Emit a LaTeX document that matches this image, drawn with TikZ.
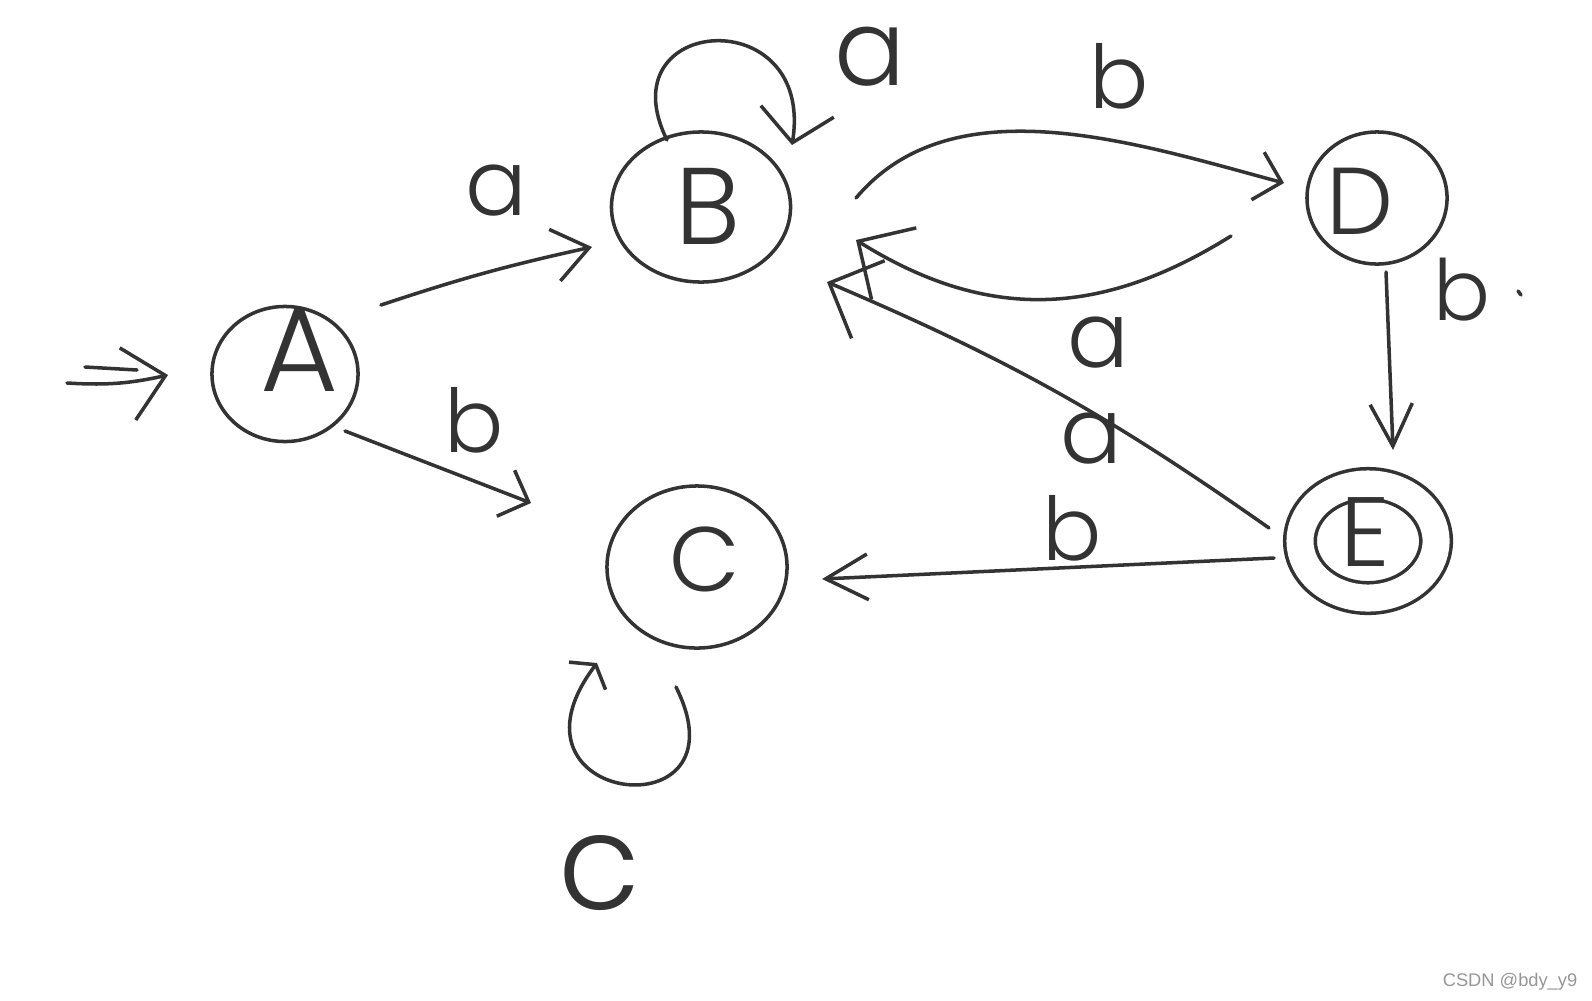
\documentclass[tikz,border=0pt]{standalone}
\usepackage{fontspec}
\setmainfont{Poppins}[UprightFont=*-Light]
\setsansfont{Liberation Sans}
\usetikzlibrary{arrows.meta,shapes.geometric}
\newcommand\fsz[1]{\fontsize{#1}{#1}\selectfont}
\definecolor{ink}{RGB}{51,51,51}
\definecolor{wm}{RGB}{150,150,150}
\begin{document}
\begin{tikzpicture}[x=0.01cm,y=-0.01cm,
  inkline/.style={draw=ink,line width=1.0pt,line cap=round,line join=round},
  state/.style={ellipse,inkline,inner sep=0pt},
  nlab/.style n args={4}{label={[text=ink,font=\fsz{#1},xshift=#2cm,yshift=#3cm]center:#4}},
  lbl/.style={text=ink,font=\fsz{#1}},
  tip/.style 2 args={inkline,-{Straight Barb[length=#1,width=#2]}},
  ]
\useasboundingbox (0,0) rectangle (1592,1000);

% states
\node[state,minimum width=1.46cm,minimum height=1.35cm,nlab={34}{0.14}{0.24}{A}] (A) at (285,374) {};
\node[state,minimum width=1.79cm,minimum height=1.50cm,nlab={31}{0.07}{0.01}{B}] (B) at (701,207) {};
\node[state,minimum width=1.80cm,minimum height=1.62cm,nlab={26}{0.08}{0.08}{C}] (C) at (697,567) {};
\node[state,minimum width=1.40cm,minimum height=1.32cm,nlab={27}{-0.17}{-0.03}{D}] (D) at (1377,198) {};
\node[state,double,double distance=0.27cm,minimum width=1.36cm,minimum height=1.14cm,nlab={28}{-0.03}{0.09}{E}] (E) at (1368,541) {};

% start arrow
\coordinate (s1) at (85,367);
\coordinate (s2) at (67,383);
\draw[inkline] (s1) -- ([shift={(-148,-4)}]A.center);
\draw[tip={11pt}{21pt}] (s2) to[bend right=8] ([shift={(-117,1)}]A.center);

% A -> B, A -> C
\draw[tip={10pt}{15pt}] ([shift={(96,-69)}]A.center) to[bend left=3] ([shift={(-109,40)}]B.center);
\draw[tip={7pt}{14pt}] ([shift={(60,57)}]A.center) -- ([shift={(-166,-64)}]C.center);

% B loop
\draw[tip={9pt}{21pt}] ([shift={(-34,-67)}]B.center) .. controls (605,15) and (815,0) .. ([shift={(91,-62)}]B.center);

% B -> D
\draw[tip={7pt}{14pt}] ([shift={(155,-9)}]B.center) to[out=50,in=165,looseness=0.9] ([shift={(-93,-15)}]D.center);

% D -> B
\draw[tip={12pt}{24pt}] ([shift={(-146,38)}]D.center) to[out=212,in=-32,looseness=1.05] ([shift={(155,33)}]B.center);

% E -> B
\draw[tip={12pt}{24pt}] ([shift={(-99,-13)}]E.center) to[bend right=6] ([shift={(126,75)}]B.center);

% D -> E
\draw[tip={12pt}{12pt}] ([shift={(9,74)}]D.center) -- ([shift={(25,-91)}]E.center);

% E -> C
\draw[tip={12pt}{13pt}] ([shift={(-94,17)}]E.center) -- ([shift={(125,12)}]C.center);

% C loop
\draw[tip={4pt}{13pt}] ([shift={(-21,120)}]C.center) .. controls (750,835) and (490,805) .. ([shift={(-100,96)}]C.center);

% edge labels
\node[lbl=26] (la1) at (496,191) {a};
\node[lbl=25] (lb1) at (474,420) {b};
\node[lbl=30] (la2) at (870,57) {a};
\node[lbl=25] (lb2) at (1119,76) {b};
\node[lbl=26] (la3) at (1098,343) {a};
\node[lbl=26] (la4) at (1091,439) {a};
\node[lbl=24] (lb3) at (1462,290) {b};
\node[lbl=25] (lb4) at (1072,528) {b};
\node[lbl=38] (lc) at (599,873) {c};
\draw[inkline] (1518,291) -- (1521,295);

% watermark
\node[text=wm,font=\sffamily\fsz{5.2}] (wmk) at (1510,982) {CSDN @bdy\_y9};
\end{tikzpicture}
\end{document}
